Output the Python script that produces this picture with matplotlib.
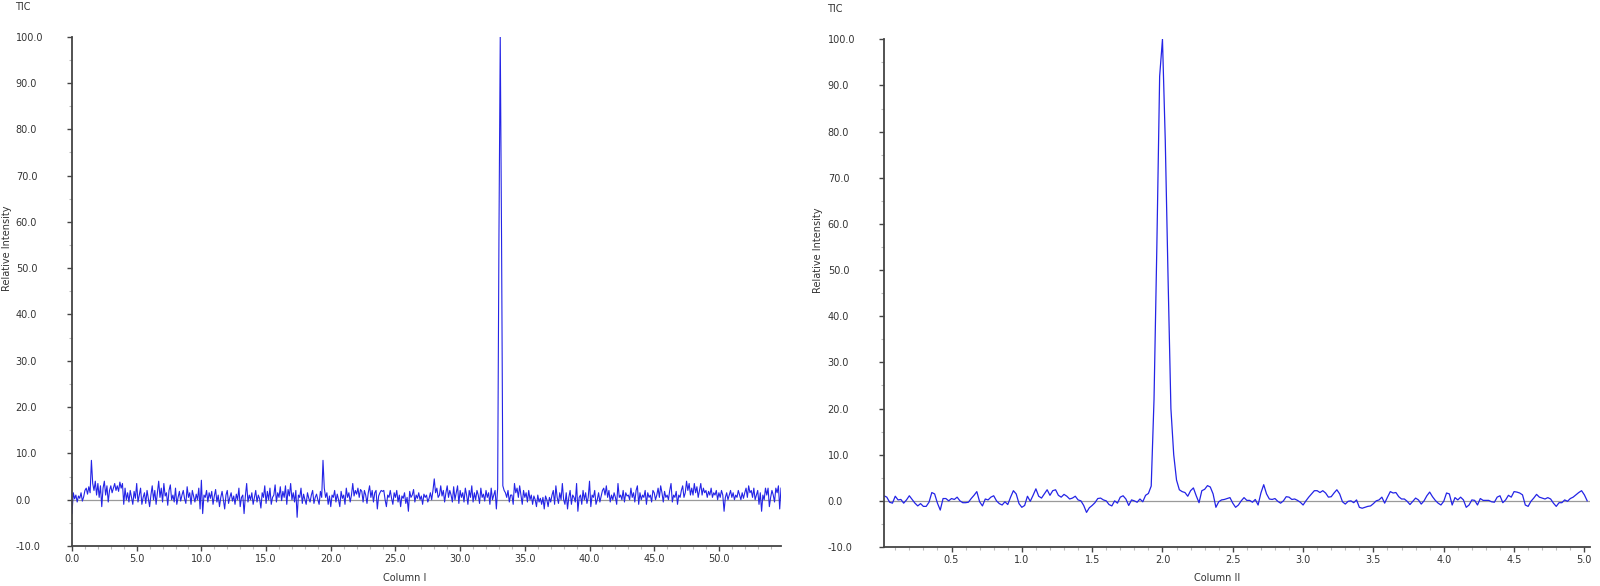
import numpy as np
import matplotlib
matplotlib.use("Agg")
import matplotlib.pyplot as plt
from matplotlib.ticker import MultipleLocator, FormatStrFormatter

# Column I: relative intensity, sampled every 0.1 from 0.0
col1_y = [
    -3.0, 1.5, 0.2, 1.0, -0.5, 0.8, 0.3, 1.5, -0.3, 0.6,
    2.0, 2.5, 1.2, 2.8, 1.5, 8.5, 3.5, 2.0, 4.0, 1.0,
    3.5, 0.5, 3.0, -1.5, 2.5, 4.0, 1.0, 3.0, -0.5, 2.0,
    3.0, 1.5, 2.5, 3.5, 2.0, 3.0, 1.8, 3.8, 2.5, 3.5,
    -1.0, 2.5, 0.0, 1.5, -0.5, 2.0, 0.5, -1.0, 1.8, 0.3,
    3.5, -0.5, 1.0, 2.5, -1.0, 0.5, 1.5, -0.8, 2.0, 0.2,
    -1.5, 1.0, 3.0, 0.0, 2.0, -1.0, 1.5, 4.0, 0.5, 2.5,
    -0.5, 3.5, 0.8, 1.5, -1.2, 2.0, 3.2, 0.0, 1.0, -0.5,
    2.5, -1.0, 0.5, 1.8, -0.3, 1.0, 2.0, 0.2, -0.8, 2.8,
    0.5, 1.5, -1.0, 2.0, 0.8, -0.5, 1.2, 0.0, 2.5, -2.0,
    4.2, -3.0, 1.0, 0.5, 2.0, -0.5, 1.5, 0.3, 1.8, -1.0,
    0.8, 2.2, -0.5, 1.0, -1.5, 0.5, 1.8, 0.0, -2.0, 1.0,
    2.0, -0.8, 0.5, 1.5, -0.3, 0.8, -1.0, 1.2, 0.0, 2.5,
    -1.5, 0.5, 1.0, -3.0, 0.8, 3.5, -0.5, 1.0, 0.0, 1.5,
    -1.0, 0.5, 2.0, -0.5, 1.0, 0.2, -1.8, 1.5, 0.5, 3.0,
    -0.8, 1.8, 0.0, 2.5, -1.0, 0.5, 1.0, 3.2, -0.5, 1.5,
    0.5, 2.8, -0.2, 1.8, 0.5, 3.0, -1.0, 2.2, 0.8, 3.5,
    0.0, 1.5, -0.5, 2.0, -3.8, 1.0, 0.5, 2.5, -0.8, 1.2,
    0.0, -1.0, 1.5, 0.3, -0.5, 1.0, 2.0, -0.8, 0.5, 1.2,
    0.0, -1.0, 1.8, 0.5, 8.5, 2.5, 0.5, 1.5, -1.0, 0.8,
    -1.5, 1.0, 0.5, 2.0, -0.5, 1.2, 0.0, -1.5, 1.8, 0.3,
    1.0, -1.0, 2.5, 0.5, 1.5, -0.5, 1.0, 3.5, 0.8, 2.0,
    1.2, 2.5, 0.5, 2.2, 1.8, -0.5, 2.0, 1.0, -0.8, 1.5,
    3.0, 0.5, 2.0, -0.5, 1.5, 2.0, -2.0, 0.8, 1.5, 2.0,
    1.8, 2.0, 0.0, -1.5, 1.0, 0.5, 2.0, 0.3, -1.0, 1.5,
    0.5, 2.0, -0.5, 1.0, -1.5, 0.8, 0.3, 1.5, -0.8, 0.5,
    -2.5, 1.8, 0.5, 1.0, 2.2, -0.5, 1.0, 0.3, 1.5, 0.0,
    0.8, -1.0, 1.2, 0.5, 1.0, -0.5, 0.3, 1.5, 0.0, 2.0,
    4.5, 1.5, 2.5, 0.5, 1.0, 3.0, 0.8, 2.0, -0.5, 1.5,
    3.0, 0.5, 2.0, 1.0, -0.5, 2.8, 0.0, 1.5, 3.0, -0.8,
    2.0, 0.5, 1.5, -0.5, 2.5, 1.0, -1.0, 2.0, 0.5, 3.0,
    -0.5, 1.5, 0.0, 2.0, 1.0, -0.8, 2.5, 0.5, 1.2, -0.3,
    2.0, 0.5, 1.5, -1.0, 2.5, 0.0, 1.0, 2.0, -2.0, 2.5,
    57.0, 100.0, 57.0, 3.0, 2.0, 1.5, 0.5, 2.0, -0.5, 1.0,
    1.0, -1.0, 3.5, 1.5, 2.5, 0.5, 3.0, 1.0, -1.0, 2.0,
    0.5, 1.5, -0.5, 2.0, 0.0, 1.0, -1.0, 0.8, 0.0, -1.5,
    1.0, -0.5, 0.3, -1.0, 0.5, -2.0, 0.8, 0.0, -1.5, 0.5,
    -0.5, 1.0, 2.0, -1.0, 3.0, 0.5, -0.8, 1.5, 0.0, 3.5,
    0.0, -1.0, 1.5, -2.0, 0.5, 2.0, -1.0, 1.0, 0.5, -0.5,
    3.5, -2.5, 0.5, 1.0, -1.0, 2.0, 0.0, 1.5, -0.8, 0.5,
    4.0, -1.5, 1.0, 0.5, 2.0, -1.0, 0.0, 1.5, -0.5, 0.8,
    2.0, 2.5, 1.0, 3.0, 0.5, 2.0, -0.5, 1.0, 0.0, 1.5,
    0.5, -1.0, 3.5, 0.5, 1.0, 0.0, 2.0, -0.5, 1.5, 0.8,
    1.0, 0.0, 2.5, 0.5, 1.5, -0.5, 2.0, 3.0, -1.0, 1.5,
    0.0, 1.0, 0.5, 2.0, -1.0, 1.5, 0.5, 1.0, -0.5, 2.0,
    1.5, 0.0, 1.0, 2.5, 0.5, 3.0, 1.5, -0.5, 1.8, 0.5,
    1.0, 0.0, 2.0, 3.5, -0.5, 1.0, 0.5, 1.8, -1.0, 1.0,
    0.5, 2.0, 3.0, 0.5, 1.5, 4.0, 2.0, 3.5, 1.0, 2.5,
    1.0, 3.5, 1.5, 2.8, 0.5, 2.0, 3.5, 1.0, 2.5, 1.5,
    2.0, 0.5, 1.8, 1.0, 2.5, 0.5, 1.5, 1.0, 2.0, 0.0,
    1.5, 0.5, 2.0, 1.0, -2.5, 0.5, 1.5, 0.0, 1.0, 2.0,
    0.5, 1.5, 0.0, 1.0, 0.5, 2.0, 1.0, 0.0, 1.5, 0.3,
    1.5, 2.5, 0.5, 3.0, 1.5, 2.0, 0.5, 2.5, 0.0, 1.0,
    2.0, -1.0, 1.5, -2.5, 1.0, 0.0, 2.5, 1.0, 2.5, -1.5,
    0.5, 2.0, 1.0, -0.5, 2.5, 1.5, 3.0, -2.0, 2.5,
]

# Column II: relative intensity, sampled every 0.02 from 0.02
col2_y = [
    1.1, 0.8, -0.3, -0.5, 1.0, 0.2, 0.3, -0.5, 0.2, 1.1,
    0.3, -0.5, -1.1, -0.6, -1.2, -1.2, -0.3, 1.8, 1.5, -0.5,
    -2.0, 0.5, 0.5, 0.0, 0.5, 0.3, 0.8, 0.0, -0.4, -0.4,
    -0.3, 0.5, 1.2, 2.0, -0.2, -1.1, 0.4, 0.2, 0.8, 1.1,
    0.0, -0.6, -0.9, -0.2, -0.8, 0.8, 2.2, 1.5, -0.6, -1.4,
    -1.0, 1.0, -0.1, 1.2, 2.6, 1.0, 0.6, 1.5, 2.4, 1.2,
    2.2, 2.4, 1.2, 0.8, 1.4, 1.0, 0.4, 0.6, 1.0, 0.2,
    0.0, -1.0, -2.5, -1.5, -1.0, -0.4, 0.5, 0.6, 0.2, 0.0,
    -0.8, -1.1, 0.0, -0.5, 0.8, 1.1, 0.4, -1.0, 0.2, 0.0,
    -0.3, 0.4, -0.2, 1.2, 1.6, 3.2, 22.0, 55.0, 92.0, 100.0,
    78.0, 48.0, 20.0, 10.0, 4.5, 2.4, 2.0, 1.8, 1.0, 2.2,
    2.8, 1.1, -0.4, 2.2, 2.5, 3.3, 3.0, 1.5, -1.4, -0.2,
    0.2, 0.3, 0.5, 0.7, -0.5, -1.4, -0.9, 0.0, 0.7, 0.1,
    0.1, -0.3, 0.3, -0.9, 1.7, 3.5, 1.5, 0.4, 0.3, 0.5,
    -0.1, -0.5, 0.0, 0.9, 0.8, 0.3, 0.4, 0.1, -0.3, -0.9,
    0.0, 0.8, 1.5, 2.2, 2.2, 1.8, 2.2, 1.7, 0.8, 0.9,
    1.7, 2.4, 1.5, -0.2, -0.7, -0.1, 0.0, -0.4, 0.2, -1.4,
    -1.6, -1.4, -1.2, -1.1, -0.6, 0.0, 0.2, 0.8, -0.5, 0.8,
    2.0, 1.7, 1.8, 0.9, 0.4, 0.4, -0.1, -0.8, -0.1, 0.6,
    0.2, -0.7, 0.0, 1.1, 1.9, 0.9, 0.1, -0.5, -0.9, -0.1,
    1.7, 1.5, -0.9, 0.7, 0.2, 0.8, 0.2, -1.4, -0.9, 0.2,
    0.1, -0.9, 0.5, 0.1, 0.1, 0.1, -0.2, -0.3, 0.8, 1.1,
    -0.4, 0.2, 1.2, 0.8, 2.0, 1.9, 1.7, 1.3, -0.9, -1.2,
    -0.1, 0.6, 1.4, 0.8, 0.6, 0.4, 0.7, 0.4, -0.5, -1.2,
    -0.4, -0.4, 0.2, -0.1, 0.5, 0.8, 1.3, 1.8, 2.2, 1.3,
    0.0,
]

col1_x = np.arange(len(col1_y)) * 0.1
col2_x = np.arange(1, len(col2_y) + 1) * 0.02

line_color = "#2424e6"
text_color = "#333333"
fs = 7

fig = plt.figure(figsize=(16, 5.86), dpi=100)
ax1 = fig.add_axes([72 / 1600, 40 / 586, 709 / 1600, 509.3 / 586])
ax2 = fig.add_axes([884 / 1600, 39 / 586, 706 / 1600, 507.7 / 586])


def style(ax, xmaj, xmin, xlim):
    ax.axhline(0, color="#9a9a9a", lw=0.9, zorder=1)
    ax.set_xlim(*xlim)
    ax.set_ylim(-10, 100)
    for s in ["top", "right"]:
        ax.spines[s].set_visible(False)
    for s in ["left", "bottom"]:
        ax.spines[s].set_color("#444444")
        ax.spines[s].set_linewidth(1.3)
    ax.yaxis.set_major_locator(MultipleLocator(10))
    ax.yaxis.set_minor_locator(MultipleLocator(5))
    ax.xaxis.set_major_locator(MultipleLocator(xmaj))
    ax.xaxis.set_minor_locator(MultipleLocator(xmin))
    ax.yaxis.set_major_formatter(FormatStrFormatter("%.1f"))
    ax.xaxis.set_major_formatter(FormatStrFormatter("%.1f"))
    ax.tick_params(axis="both", which="major", direction="out", length=3.5,
                   width=1.0, color="#444444", labelsize=fs, labelcolor=text_color)
    ax.tick_params(axis="both", which="minor", direction="out", length=2.5,
                   width=0.8, color="#bbbbbb")
    ax.tick_params(axis="y", which="major", pad=37)
    ax.tick_params(axis="x", which="major", pad=2)
    for lab in ax.get_yticklabels():
        lab.set_horizontalalignment("left")


ax1.plot(col1_x, col1_y, color=line_color, lw=0.8, zorder=2)
style(ax1, 5, 1, (0, col1_x[-1]))

ax2.plot(col2_x, col2_y, color=line_color, lw=0.9, zorder=2)
style(ax2, 0.5, 0.1, (0.02, 5.04))

# titles and axis labels
fig.text(15 / 1600, 1 - 7 / 586, "TIC", fontsize=fs, color=text_color, va="center")
fig.text(827 / 1600, 1 - 9 / 586, "TIC", fontsize=fs, color=text_color, va="center")
fig.text(7 / 1600, 1 - 248 / 586, "Relative Intensity", fontsize=fs, color=text_color,
         rotation=90, ha="center", va="center")
fig.text(818 / 1600, 1 - 250 / 586, "Relative Intensity", fontsize=fs, color=text_color,
         rotation=90, ha="center", va="center")
fig.text(405 / 1600, 1 - 578 / 586, "Column I", fontsize=fs, color=text_color,
         ha="center", va="center")
fig.text(1217 / 1600, 1 - 578 / 586, "Column II", fontsize=fs, color=text_color,
         ha="center", va="center")

fig.savefig("out.png", dpi=100, facecolor="white")
